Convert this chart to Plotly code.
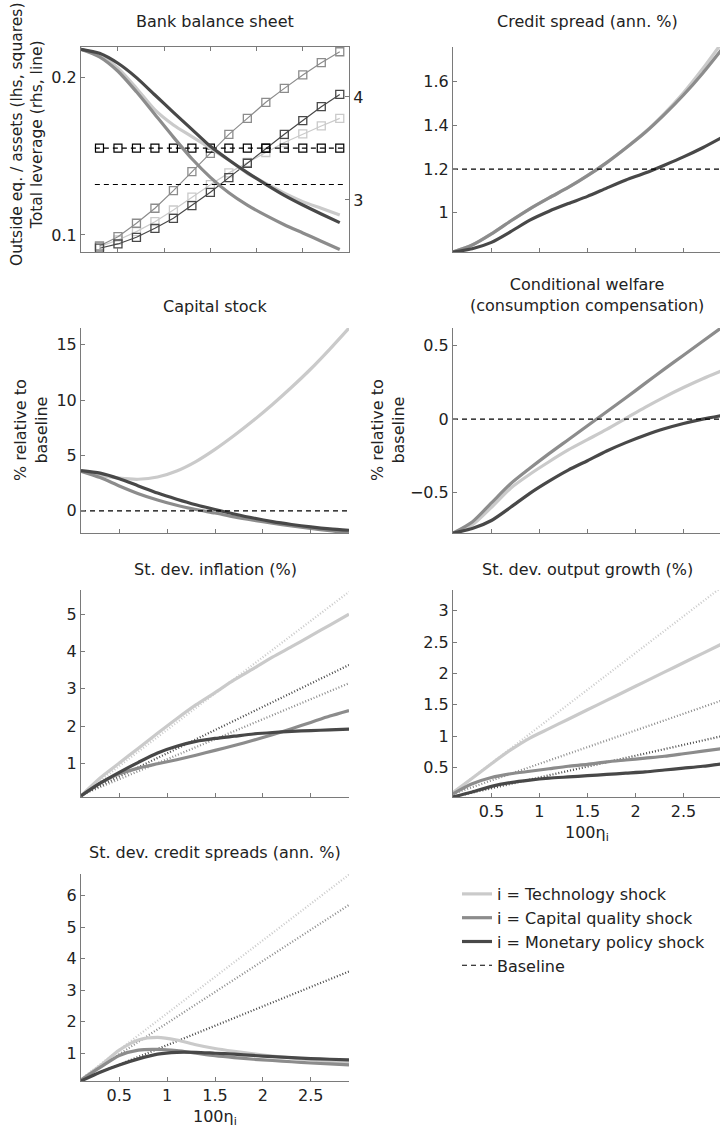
import plotly.graph_objects as go

# ---------------- data ----------------
x_grid = [0.1, 0.3, 0.5, 0.7, 0.9, 1.1, 1.3, 1.5, 1.7, 1.9, 2.1, 2.3, 2.5, 2.7, 2.9]
sq_x = [0.3, 0.5, 0.7, 0.9, 1.1, 1.3, 1.5, 1.7, 1.9, 2.1, 2.3, 2.5, 2.7, 2.9]
line_x_ends = [0.1, 2.9]
bank_base_x = [0.25, 2.95]

# Bank balance sheet: total leverage (rhs, lines)
lev_tech = [4.463, 4.408, 4.278, 4.084, 3.874, 3.728, 3.615, 3.502, 3.388, 3.259, 3.162, 3.065, 2.984, 2.919, 2.854]
lev_capq = [4.463, 4.39, 4.25, 4.05, 3.83, 3.61, 3.40, 3.22, 3.07, 2.95, 2.85, 2.76, 2.68, 2.60, 2.52]
lev_mon = [4.463, 4.424, 4.327, 4.188, 4.019, 3.851, 3.686, 3.521, 3.388, 3.265, 3.152, 3.045, 2.951, 2.864, 2.780]
lev_base = [3.15, 3.15]
# Bank balance sheet: outside equity / assets (lhs, squares)
eq_tech = [0.0926, 0.0968, 0.1021, 0.1084, 0.1158, 0.1240, 0.1318, 0.1393, 0.1460, 0.1522, 0.1585, 0.1640, 0.1690, 0.1738]
eq_capq = [0.0930, 0.0989, 0.1074, 0.1169, 0.1281, 0.1401, 0.1517, 0.1637, 0.1738, 0.1840, 0.1928, 0.2013, 0.2091, 0.2160]
eq_mon = [0.0916, 0.0943, 0.0985, 0.1042, 0.1105, 0.1186, 0.1270, 0.1363, 0.1454, 0.1549, 0.1637, 0.1724, 0.1812, 0.1890]
eq_base_line = [0.155, 0.155]
eq_base = [0.155] * 14

# Credit spread (ann. %)
cs_tech = [0.82, 0.852, 0.903, 0.962, 1.018, 1.068, 1.116, 1.17, 1.23, 1.297, 1.37, 1.455, 1.55, 1.66, 1.78]
cs_capq = [0.82, 0.852, 0.903, 0.962, 1.018, 1.068, 1.116, 1.17, 1.23, 1.297, 1.368, 1.45, 1.54, 1.64, 1.75]
cs_mon = [0.82, 0.835, 0.864, 0.913, 0.966, 1.007, 1.042, 1.075, 1.113, 1.15, 1.182, 1.218, 1.256, 1.298, 1.345]
cs_base = [1.2, 1.2]

# Capital stock
k_tech = [3.6, 3.2, 2.95, 2.85, 3.05, 3.6, 4.45, 5.55, 6.8, 8.15, 9.6, 11.15, 12.8, 14.6, 16.5]
k_capq = [3.57, 3.0, 2.25, 1.55, 0.98, 0.5, 0.12, -0.2, -0.55, -0.85, -1.12, -1.36, -1.58, -1.8, -1.98]
k_mon = [3.63, 3.4, 2.9, 2.25, 1.6, 1.05, 0.55, 0.12, -0.28, -0.65, -0.97, -1.23, -1.45, -1.63, -1.75]
k_base = [0, 0]

# Conditional welfare
w_tech = [-0.776, -0.72, -0.60, -0.47, -0.375, -0.29, -0.21, -0.14, -0.07, 0.005, 0.08, 0.15, 0.215, 0.275, 0.33]
w_capq = [-0.776, -0.70, -0.57, -0.44, -0.335, -0.235, -0.14, -0.045, 0.05, 0.145, 0.243, 0.34, 0.435, 0.53, 0.625]
w_mon = [-0.776, -0.745, -0.69, -0.6, -0.505, -0.422, -0.347, -0.283, -0.217, -0.16, -0.11, -0.066, -0.03, 0.0, 0.025]
w_base = [0, 0]

# St. dev. inflation
inf_tech = [0.13, 0.61, 1.01, 1.41, 1.81, 2.2, 2.57, 2.9, 3.24, 3.54, 3.85, 4.13, 4.42, 4.71, 5.0]
inf_capq = [0.13, 0.47, 0.72, 0.875, 0.99, 1.1, 1.22, 1.35, 1.48, 1.62, 1.77, 1.93, 2.1, 2.27, 2.42]
inf_mon = [0.13, 0.47, 0.76, 1.03, 1.28, 1.46, 1.59, 1.67, 1.73, 1.79, 1.83, 1.86, 1.88, 1.90, 1.92]
inf_tech_dot = [0.15, 5.6]
inf_capq_dot = [0.15, 3.15]
inf_mon_dot = [0.15, 3.64]

# St. dev. output growth
og_tech = [0.10, 0.33, 0.56, 0.78, 0.97, 1.12, 1.27, 1.42, 1.57, 1.72, 1.87, 2.02, 2.17, 2.32, 2.47]
og_capq = [0.08, 0.24, 0.34, 0.40, 0.44, 0.48, 0.52, 0.55, 0.59, 0.62, 0.65, 0.68, 0.72, 0.76, 0.80]
og_mon = [0.03, 0.11, 0.20, 0.26, 0.30, 0.33, 0.35, 0.37, 0.39, 0.41, 0.43, 0.46, 0.49, 0.52, 0.56]
og_tech_dot = [0.10, 3.38]
og_capq_dot = [0.08, 1.57]
og_mon_dot = [0.03, 1.0]

# St. dev. credit spreads
sd_tech = [0.15, 0.6, 1.1, 1.42, 1.5, 1.42, 1.27, 1.15, 1.06, 0.98, 0.91, 0.85, 0.79, 0.74, 0.70]
sd_capq = [0.15, 0.55, 0.93, 1.1, 1.12, 1.08, 1.0, 0.92, 0.86, 0.81, 0.77, 0.73, 0.69, 0.66, 0.63]
sd_mon = [0.12, 0.4, 0.63, 0.82, 0.97, 1.03, 1.03, 1.0, 0.97, 0.93, 0.89, 0.86, 0.83, 0.81, 0.79]
sd_tech_dot = [0.18, 6.66]
sd_capq_dot = [0.18, 5.7]
sd_mon_dot = [0.15, 3.59]

x_tick_vals = [0.5, 1, 1.5, 2, 2.5]
x_tick_text = ["0.5", "1", "1.5", "2", "2.5"]

legend_names = ["i = Technology shock", "i = Capital quality shock", "i = Monetary policy shock", "Baseline"]

# ---------------- style ----------------
W, H = 720, 1130
LIGHT = "#cacaca"
MID = "#8c8c8c"
DARK = "#484848"
BLACK = "#000000"
AXC = "#7a7a7a"
TXT = "#222222"
FONT = "DejaVu Sans"
FS = 16
LW = 3.2

LX = [81 / W, 349 / W]
RX = [453 / W, 1.0]
ROWS = [(47, 252), (328, 533), (590, 797), (874, 1081)]


def ydom(r):
    t, b = ROWS[r]
    return [1 - b / H, 1 - t / H]


fig = go.Figure()


def add_line(x, y, ax, color, width=LW, dash=None, name=None, legend=False, rank=None, shape="spline"):
    xa, ya = ax
    fig.add_trace(go.Scatter(
        x=x, y=y, xaxis=xa, yaxis=ya, mode="lines",
        line=dict(color=color, width=width, dash=dash, shape=shape, smoothing=0.7),
        name=name, showlegend=legend, legendrank=rank, hoverinfo="skip"))


DOT = "1px,2px"
DASH = "5px,4px"

# Panel 1: bank balance sheet
ax1 = ("x", "y")
ax1r = ("x", "y8")
for ys, c in [(eq_tech, LIGHT), (eq_capq, MID), (eq_mon, DARK)]:
    fig.add_trace(go.Scatter(
        x=sq_x, y=ys, xaxis="x", yaxis="y", mode="lines+markers",
        line=dict(color=c, width=1.2),
        marker=dict(symbol="square-open", size=8, color=c, line=dict(width=1.3, color=c)),
        showlegend=False, hoverinfo="skip"))
add_line(bank_base_x, eq_base_line, ax1, BLACK, width=1.1, dash=DASH, shape="linear")
fig.add_trace(go.Scatter(
    x=sq_x, y=eq_base, xaxis="x", yaxis="y", mode="markers",
    marker=dict(symbol="square-open", size=8, color=BLACK, line=dict(width=1.2, color="#222222")),
    showlegend=False, hoverinfo="skip"))
add_line(x_grid, lev_tech, ax1r, LIGHT)
add_line(x_grid, lev_capq, ax1r, MID)
add_line(x_grid, lev_mon, ax1r, DARK)
add_line(bank_base_x, lev_base, ax1r, BLACK, width=1.1, dash=DASH, shape="linear")

# Panel 2: credit spread (legend source)
ax2 = ("x2", "y2")
add_line(x_grid, cs_tech, ax2, LIGHT, name=legend_names[0], legend=True, rank=1)
add_line(x_grid, cs_capq, ax2, MID, name=legend_names[1], legend=True, rank=2)
add_line(x_grid, cs_mon, ax2, DARK, name=legend_names[2], legend=True, rank=3)
add_line(line_x_ends, cs_base, ax2, BLACK, width=1.1, dash=DASH, name=legend_names[3], legend=True, rank=4, shape="linear")

# Panel 3: capital stock
ax3 = ("x3", "y3")
add_line(x_grid, k_tech, ax3, LIGHT)
add_line(x_grid, k_capq, ax3, MID)
add_line(x_grid, k_mon, ax3, DARK)
add_line(line_x_ends, k_base, ax3, BLACK, width=1.1, dash=DASH, shape="linear")

# Panel 4: welfare
ax4 = ("x4", "y4")
add_line(x_grid, w_tech, ax4, LIGHT)
add_line(x_grid, w_capq, ax4, MID)
add_line(x_grid, w_mon, ax4, DARK)
add_line(line_x_ends, w_base, ax4, BLACK, width=1.1, dash=DASH, shape="linear")

# Panel 5: inflation
ax5 = ("x5", "y5")
add_line(line_x_ends, inf_tech_dot, ax5, LIGHT, width=2.2, dash=DOT, shape="linear")
add_line(line_x_ends, inf_capq_dot, ax5, MID, width=2.2, dash=DOT, shape="linear")
add_line(line_x_ends, inf_mon_dot, ax5, DARK, width=2.2, dash=DOT, shape="linear")
add_line(x_grid, inf_tech, ax5, LIGHT)
add_line(x_grid, inf_capq, ax5, MID)
add_line(x_grid, inf_mon, ax5, DARK)

# Panel 6: output growth
ax6 = ("x6", "y6")
add_line(line_x_ends, og_tech_dot, ax6, LIGHT, width=2.2, dash=DOT, shape="linear")
add_line(line_x_ends, og_capq_dot, ax6, MID, width=2.2, dash=DOT, shape="linear")
add_line(line_x_ends, og_mon_dot, ax6, DARK, width=2.2, dash=DOT, shape="linear")
add_line(x_grid, og_tech, ax6, LIGHT)
add_line(x_grid, og_capq, ax6, MID)
add_line(x_grid, og_mon, ax6, DARK)

# Panel 7: credit spreads st. dev.
ax7 = ("x7", "y7")
add_line(line_x_ends, sd_tech_dot, ax7, LIGHT, width=2.2, dash=DOT, shape="linear")
add_line(line_x_ends, sd_capq_dot, ax7, MID, width=2.2, dash=DOT, shape="linear")
add_line(line_x_ends, sd_mon_dot, ax7, DARK, width=2.2, dash=DOT, shape="linear")
add_line(x_grid, sd_tech, ax7, LIGHT)
add_line(x_grid, sd_capq, ax7, MID)
add_line(x_grid, sd_mon, ax7, DARK)

# ---------------- axes ----------------
tickfont = dict(family=FONT, size=FS, color=TXT)


def xcfg(domain, anchor, rng, labels=False, mirror=False):
    return dict(domain=domain, anchor=anchor, range=rng, showline=True, linecolor=AXC, linewidth=1,
                ticks="inside", ticklen=4, tickcolor=AXC, tickvals=x_tick_vals, ticktext=x_tick_text,
                showticklabels=labels, showgrid=False, zeroline=False, tickfont=tickfont,
                mirror=mirror, fixedrange=True)


def ycfg(domain, anchor, rng, vals, text, mirror=False):
    return dict(domain=domain, anchor=anchor, range=rng, showline=True, linecolor=AXC, linewidth=1,
                ticks="inside", ticklen=4, tickcolor=AXC, tickvals=vals, ticktext=text,
                showgrid=False, zeroline=False, tickfont=tickfont, mirror=mirror, fixedrange=True)


layout = dict(
    width=W, height=H, margin=dict(l=0, r=0, t=0, b=0),
    paper_bgcolor="white", plot_bgcolor="white",
    font=dict(family=FONT, size=FS, color=TXT),
    xaxis=xcfg(LX, "y", [0.1, 3.0], mirror="ticks"),
    yaxis=ycfg(ydom(0), "x", [0.0892, 0.219], [0.1, 0.2], ["0.1", "0.2"]),
    yaxis8=dict(overlaying="y", side="right", anchor="x", range=[2.495, 4.485], showline=True,
                linecolor=AXC, linewidth=1, ticks="inside", ticklen=4, tickcolor=AXC,
                tickvals=[3, 4], ticktext=["3", "4"], showgrid=False, zeroline=False,
                tickfont=tickfont, fixedrange=True),
    xaxis2=xcfg(RX, "y2", [0.1, 2.88]),
    yaxis2=ycfg(ydom(0), "x2", [0.82, 1.76], [1, 1.2, 1.4, 1.6], ["1", "1.2", "1.4", "1.6"]),
    xaxis3=xcfg(LX, "y3", [0.1, 2.9]),
    yaxis3=ycfg(ydom(1), "x3", [-2.0, 16.5], [0, 5, 10, 15], ["0", "5", "10", "15"]),
    xaxis4=xcfg(RX, "y4", [0.1, 2.88]),
    yaxis4=ycfg(ydom(1), "x4", [-0.775, 0.62], [-0.5, 0, 0.5], ["\u22120.5", "0", "0.5"]),
    xaxis5=xcfg(LX, "y5", [0.1, 2.9]),
    yaxis5=ycfg(ydom(2), "x5", [0.1, 5.65], [1, 2, 3, 4, 5], ["1", "2", "3", "4", "5"]),
    xaxis6=xcfg(RX, "y6", [0.1, 2.88], labels=True),
    yaxis6=ycfg(ydom(2), "x6", [0.03, 3.33], [0.5, 1, 1.5, 2, 2.5, 3], ["0.5", "1", "1.5", "2", "2.5", "3"]),
    xaxis7=xcfg(LX, "y7", [0.1, 2.9], labels=True),
    yaxis7=ycfg(ydom(3), "x7", [0.12, 6.68], [1, 2, 3, 4, 5, 6], ["1", "2", "3", "4", "5", "6"]),
    legend=dict(x=457 / W, y=1 - 877 / H, xanchor="left", yanchor="top", bgcolor="rgba(0,0,0,0)",
                font=dict(family=FONT, size=16, color=TXT), itemwidth=30, tracegroupgap=0,
                traceorder="normal"),
    showlegend=True,
)
fig.update_layout(**layout)


def ann(text, xpx, ypx, angle=0, size=FS):
    fig.add_annotation(text=text, x=xpx / W, y=1 - ypx / H, xref="paper", yref="paper",
                       showarrow=False, textangle=angle, xanchor="center", yanchor="middle",
                       font=dict(family=FONT, size=size, color=TXT))


ann("Bank balance sheet", 215, 22)
ann("Credit spread (ann. %)", 587, 22)
ann("Capital stock", 215, 306)
ann("Conditional welfare<br>(consumption compensation)", 587, 295)
ann("St. dev. inflation (%)", 215, 569)
ann("St. dev. output growth (%)", 587, 569)
ann("St. dev. credit spreads (ann. %)", 215, 852)
ann("Outside eq. / assets (lhs, squares)<br>Total leverage (rhs, line)", 27, 135, angle=-90, size=15.5)
ann("% relative to<br>baseline", 31, 430, angle=-90)
ann("% relative to<br>baseline", 388, 430, angle=-90)
ann("100\u03b7<sub>i</sub>", 587, 833)
ann("100\u03b7<sub>i</sub>", 215, 1117)

fig.write_html("out.html")
